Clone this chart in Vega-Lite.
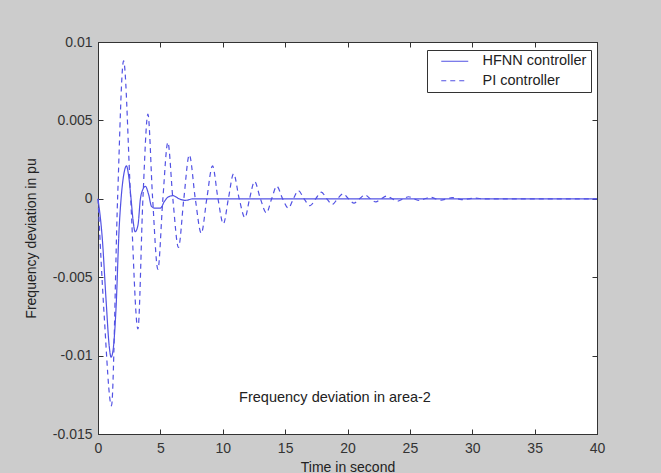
{
  "$schema": "https://vega.github.io/schema/vega-lite/v6.json",
  "width": 499,
  "height": 392,
  "autosize": {"type": "none"},
  "padding": {"left": 98, "top": 42, "right": 64, "bottom": 39},
  "background": "#cccccc",
  "config": {
    "view": {"fill": "white", "stroke": "#333333", "strokeWidth": 1},
    "font": "Liberation Sans",
    "axis": {
      "grid": false,
      "domainColor": "#333333",
      "tickColor": "#333333",
      "labelColor": "#333333",
      "titleColor": "#222222",
      "labelFont": "Liberation Sans",
      "titleFont": "Liberation Sans",
      "labelFontSize": 14,
      "titleFontSize": 14,
      "titleFontWeight": "normal",
      "tickSize": -5
    },
    "legend": {
      "labelFont": "Liberation Sans",
      "labelFontSize": 14.5,
      "labelColor": "#222222"
    }
  },
  "datasets": {
    "curves": [
      {"t": 0, "v": 0, "series": "HFNN controller"},
      {"t": 0.35, "v": -0.0026, "series": "HFNN controller"},
      {"t": 0.65, "v": -0.0065, "series": "HFNN controller"},
      {"t": 0.9, "v": -0.0094, "series": "HFNN controller"},
      {"t": 1.05, "v": -0.0101, "series": "HFNN controller"},
      {"t": 1.2, "v": -0.0097, "series": "HFNN controller"},
      {"t": 1.45, "v": -0.0069, "series": "HFNN controller"},
      {"t": 1.7, "v": -0.0018, "series": "HFNN controller"},
      {"t": 1.85, "v": 0, "series": "HFNN controller"},
      {"t": 2.1, "v": 0.0017, "series": "HFNN controller"},
      {"t": 2.28, "v": 0.0021, "series": "HFNN controller"},
      {"t": 2.45, "v": 0.0015, "series": "HFNN controller"},
      {"t": 2.65, "v": 0, "series": "HFNN controller"},
      {"t": 2.8, "v": -0.0013, "series": "HFNN controller"},
      {"t": 2.98, "v": -0.0021, "series": "HFNN controller"},
      {"t": 3.2, "v": -0.0017, "series": "HFNN controller"},
      {"t": 3.4, "v": 0, "series": "HFNN controller"},
      {"t": 3.6, "v": 0.0006, "series": "HFNN controller"},
      {"t": 3.8, "v": 0.0008, "series": "HFNN controller"},
      {"t": 4.05, "v": 0.0003, "series": "HFNN controller"},
      {"t": 4.3, "v": -0.0005, "series": "HFNN controller"},
      {"t": 4.6, "v": -0.0006, "series": "HFNN controller"},
      {"t": 5.0, "v": -0.0006, "series": "HFNN controller"},
      {"t": 5.3, "v": -0.0002, "series": "HFNN controller"},
      {"t": 5.6, "v": 0.0001, "series": "HFNN controller"},
      {"t": 6.0, "v": 0.0002, "series": "HFNN controller"},
      {"t": 6.5, "v": 0, "series": "HFNN controller"},
      {"t": 7.0, "v": -0.0001, "series": "HFNN controller"},
      {"t": 7.6, "v": 0, "series": "HFNN controller"},
      {"t": 40, "v": 0, "series": "HFNN controller"},
      {"t": 0, "v": 0, "series": "PI controller"},
      {"t": 0.5, "v": -0.0075, "series": "PI controller"},
      {"t": 1.08, "v": -0.0132, "series": "PI controller"},
      {"t": 1.57, "v": 0, "series": "PI controller"},
      {"t": 2.05, "v": 0.0088, "series": "PI controller"},
      {"t": 2.62, "v": 0, "series": "PI controller"},
      {"t": 3.2, "v": -0.0083, "series": "PI controller"},
      {"t": 3.6, "v": 0, "series": "PI controller"},
      {"t": 4.0, "v": 0.0054, "series": "PI controller"},
      {"t": 4.38, "v": 0, "series": "PI controller"},
      {"t": 4.8, "v": -0.0045, "series": "PI controller"},
      {"t": 5.2, "v": 0, "series": "PI controller"},
      {"t": 5.6, "v": 0.0036, "series": "PI controller"},
      {"t": 6.0, "v": 0, "series": "PI controller"},
      {"t": 6.45, "v": -0.0031, "series": "PI controller"},
      {"t": 6.88, "v": 0, "series": "PI controller"},
      {"t": 7.32, "v": 0.0028, "series": "PI controller"},
      {"t": 7.8, "v": 0, "series": "PI controller"},
      {"t": 8.28, "v": -0.0022, "series": "PI controller"},
      {"t": 8.72, "v": 0, "series": "PI controller"},
      {"t": 9.18, "v": 0.0021, "series": "PI controller"},
      {"t": 9.62, "v": 0, "series": "PI controller"},
      {"t": 10.05, "v": -0.0016, "series": "PI controller"},
      {"t": 10.45, "v": 0, "series": "PI controller"},
      {"t": 10.87, "v": 0.0016, "series": "PI controller"},
      {"t": 11.32, "v": 0, "series": "PI controller"},
      {"t": 11.78, "v": -0.0012, "series": "PI controller"},
      {"t": 12.15, "v": 0, "series": "PI controller"},
      {"t": 12.55, "v": 0.0011, "series": "PI controller"},
      {"t": 13.02, "v": 0, "series": "PI controller"},
      {"t": 13.5, "v": -0.0009, "series": "PI controller"},
      {"t": 13.92, "v": 0, "series": "PI controller"},
      {"t": 14.33, "v": 0.0008, "series": "PI controller"},
      {"t": 14.8, "v": 0, "series": "PI controller"},
      {"t": 15.26, "v": -0.0006, "series": "PI controller"},
      {"t": 15.66, "v": 0, "series": "PI controller"},
      {"t": 16.06, "v": 0.00052, "series": "PI controller"},
      {"t": 16.52, "v": 0, "series": "PI controller"},
      {"t": 17.0, "v": -0.00044, "series": "PI controller"},
      {"t": 17.45, "v": 0, "series": "PI controller"},
      {"t": 17.9, "v": 0.00042, "series": "PI controller"},
      {"t": 18.34, "v": 0, "series": "PI controller"},
      {"t": 18.78, "v": -0.00036, "series": "PI controller"},
      {"t": 19.2, "v": 0, "series": "PI controller"},
      {"t": 19.65, "v": 0.00032, "series": "PI controller"},
      {"t": 20.08, "v": 0, "series": "PI controller"},
      {"t": 20.52, "v": -0.00027, "series": "PI controller"},
      {"t": 20.96, "v": 0, "series": "PI controller"},
      {"t": 21.4, "v": 0.00024, "series": "PI controller"},
      {"t": 21.83, "v": 0, "series": "PI controller"},
      {"t": 22.27, "v": -0.0002, "series": "PI controller"},
      {"t": 22.7, "v": 0, "series": "PI controller"},
      {"t": 23.15, "v": 0.00018, "series": "PI controller"},
      {"t": 23.58, "v": 0, "series": "PI controller"},
      {"t": 24.02, "v": -0.00015, "series": "PI controller"},
      {"t": 24.46, "v": 0, "series": "PI controller"},
      {"t": 24.9, "v": 0.00013, "series": "PI controller"},
      {"t": 25.33, "v": 0, "series": "PI controller"},
      {"t": 25.77, "v": -0.00011, "series": "PI controller"},
      {"t": 26.2, "v": 0, "series": "PI controller"},
      {"t": 26.65, "v": 0.0001, "series": "PI controller"},
      {"t": 27.08, "v": 0, "series": "PI controller"},
      {"t": 27.52, "v": -0.00008, "series": "PI controller"},
      {"t": 27.96, "v": 0, "series": "PI controller"},
      {"t": 28.4, "v": 0.00007, "series": "PI controller"},
      {"t": 28.83, "v": 0, "series": "PI controller"},
      {"t": 29.27, "v": -0.00005, "series": "PI controller"},
      {"t": 29.7, "v": 0, "series": "PI controller"},
      {"t": 30.15, "v": 0.00004, "series": "PI controller"},
      {"t": 31, "v": 0, "series": "PI controller"},
      {"t": 40, "v": 0, "series": "PI controller"}
    ],
    "note": [
      {"t": 19, "v": -0.0127, "label": "Frequency deviation in area-2"}
    ]
  },
  "layer": [
    {
      "data": {"name": "curves"},
      "mark": {"type": "line", "interpolate": "monotone", "color": "#5252e4", "strokeWidth": 1.2},
      "encoding": {
        "x": {
          "field": "t", "type": "quantitative",
          "scale": {"domain": [0, 40], "nice": false, "zero": false},
          "axis": {"values": [0, 5, 10, 15, 20, 25, 30, 35, 40], "title": "Time in second", "labelPadding": 12, "titlePadding": 5, "labelFlush": false}
        },
        "y": {
          "field": "v", "type": "quantitative",
          "scale": {"domain": [-0.015, 0.01], "nice": false, "zero": false},
          "axis": {
            "values": [-0.015, -0.01, -0.005, 0, 0.005, 0.01],
            "labelExpr": "replace(format(datum.value, '~g'), '\u2212', '-')",
            "title": "Frequency deviation in pu",
            "labelPadding": 11,
            "titlePadding": 14,
            "labelFlush": false
          }
        },
        "strokeDash": {
          "field": "series", "type": "nominal",
          "scale": {"domain": ["HFNN controller", "PI controller"], "range": [[1, 0], [5, 4]]},
          "legend": {
            "orient": "none", "legendX": 329, "legendY": 8,
            "title": null,
            "strokeColor": "#333333", "fillColor": "white",
            "padding": 4,
            "symbolType": "M0.6,0L6,0", "symbolSize": 100,
            "symbolStrokeColor": "#5252e4", "symbolStrokeWidth": 1.2,
            "labelOffset": 37, "rowPadding": 4.5
          }
        },
        "detail": {"field": "series"}
      }
    },
    {
      "data": {"name": "curves"},
      "mark": {"type": "point", "opacity": 0},
      "encoding": {
        "x": {"field": "t", "type": "quantitative", "axis": {"orient": "top", "values": [0, 5, 10, 15, 20, 25, 30, 35, 40], "labels": false, "title": null}},
        "y": {"field": "v", "type": "quantitative", "axis": {"orient": "right", "values": [-0.015, -0.01, -0.005, 0, 0.005, 0.01], "labels": false, "title": null}}
      }
    },
    {
      "data": {"name": "note"},
      "mark": {"type": "text", "fontSize": 14.5, "color": "#222222", "font": "Liberation Sans", "baseline": "middle", "align": "center"},
      "encoding": {
        "x": {"field": "t", "type": "quantitative", "axis": null},
        "y": {"field": "v", "type": "quantitative", "axis": null},
        "text": {"field": "label"}
      }
    }
  ],
  "resolve": {"axis": {"x": "independent", "y": "independent"}}
}
